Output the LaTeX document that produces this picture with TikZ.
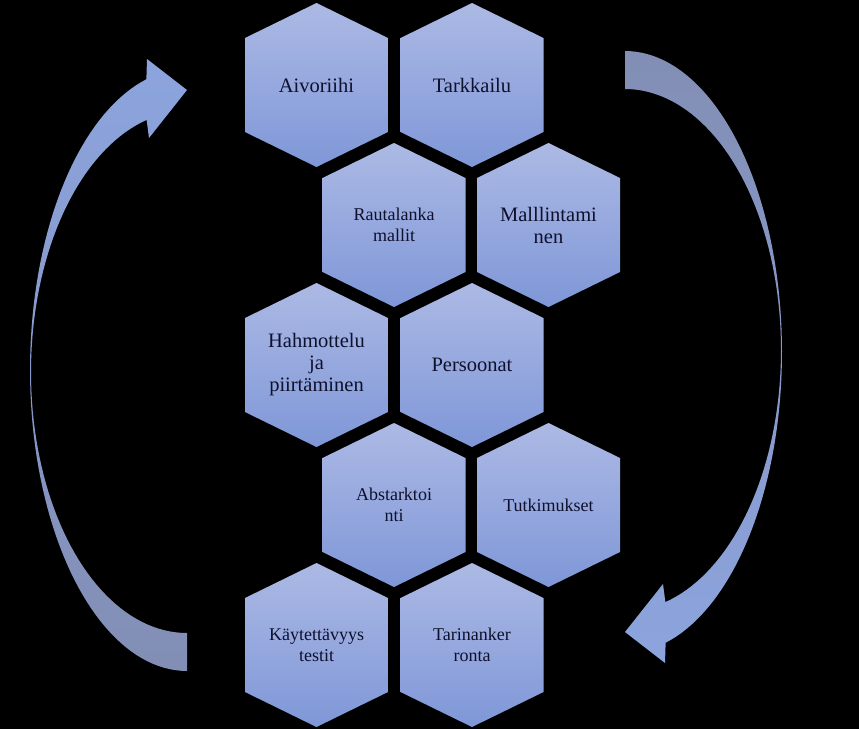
\documentclass[tikz,border=0pt]{standalone}
\usepackage{fontspec}
\setmainfont{Liberation Serif}
\definecolor{hextop}{RGB}{172,185,228}
\definecolor{hexbot}{RGB}{127,151,216}
\definecolor{arrgrey}{RGB}{130,142,180}
\definecolor{arrblue}{RGB}{140,164,222}
\definecolor{txt}{RGB}{14,16,44}
\newcommand{\hexcell}[5]{%
  \shade[top color=hextop, bottom color=hexbot]
    (#1,#2-82) -- (#1+71.5,#2-47) -- (#1+71.5,#2+47) -- (#1,#2+82)
    -- (#1-71.5,#2+47) -- (#1-71.5,#2-47) -- cycle;
  \node[#5] (#3) at (#1,#2) {#4};
}
\tikzset{
  bigtext/.style={align=center, text=txt, inner sep=0pt, font=\fontsize{20.5}{22}\selectfont},
  smalltext/.style={align=center, text=txt, inner sep=0pt, font=\fontsize{18}{21}\selectfont},
}
\begin{document}
\begin{tikzpicture}[x=1pt,y=-1pt]
\fill[black] (0,0) rectangle (859,729);
\useasboundingbox (0,0) rectangle (859,729);

% right circular arrow (clockwise, downward)
\shade[top color=arrgrey, bottom color=arrblue]
  plot[domain=-90:75, samples=80, variable=\t] ({625+157*cos(\t)}, {352+301*sin(\t)})
  -- (665,663) -- (625,632) -- (663,584)
  -- plot[domain=75:-90, samples=80, variable=\t] ({625+156*cos(\t)}, {350+261*sin(\t)})
  -- cycle;

% left circular arrow (upward)
\shade[top color=arrblue, bottom color=arrgrey]
  plot[domain=-90:75, samples=80, variable=\t] ({187-157*cos(\t)}, {370-301*sin(\t)})
  -- (147,59) -- (187,90) -- (149,138)
  -- plot[domain=75:-90, samples=80, variable=\t] ({187-156*cos(\t)}, {372-261*sin(\t)})
  -- cycle;

% hexagons
\hexcell{316.5}{85}{aivo}{Aivoriihi}{bigtext}
\hexcell{472}{85}{tark}{Tarkkailu}{bigtext}
\hexcell{394}{225}{raut}{Rautalanka\\mallit}{smalltext}
\hexcell{548.5}{225}{mall}{Malllintami\\nen}{bigtext}
\hexcell{316.5}{365}{hahm}{Hahmottelu\\ja\\piirtäminen}{bigtext}
\hexcell{472}{365}{pers}{Persoonat}{bigtext}
\hexcell{394}{505}{abst}{Abstarktoi\\nti}{smalltext}
\hexcell{548.5}{505}{tutk}{Tutkimukset}{smalltext}
\hexcell{316.5}{645}{kayt}{Käytettävyys\\testit}{smalltext}
\hexcell{472}{645}{tari}{Tarinanker\\ronta}{smalltext}
\end{tikzpicture}
\end{document}
